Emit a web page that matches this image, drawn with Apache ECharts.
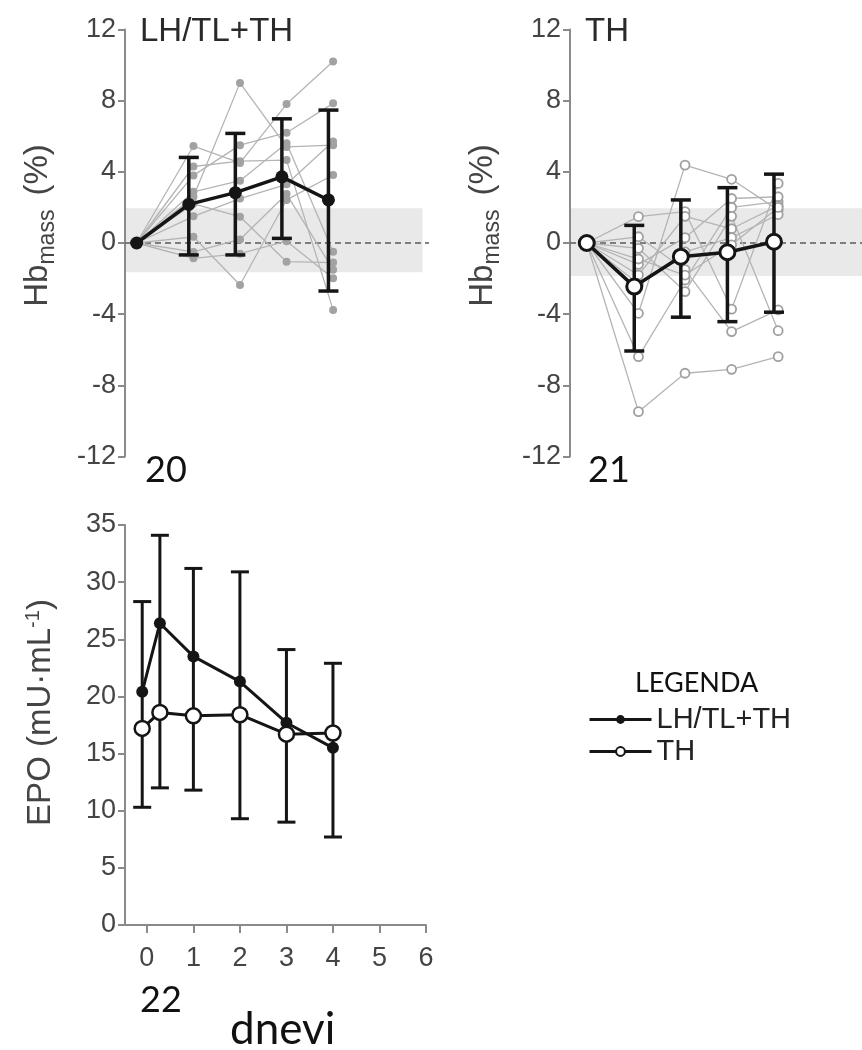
<!DOCTYPE html>
<html><head><meta charset="utf-8">
<script src="https://cdn.jsdelivr.net/npm/echarts@6/dist/echarts.min.js"></script>
<style>html,body{margin:0;padding:0;background:#fff}#c{width:862px;height:1050px}</style>
</head><body><div id="c"></div>
<script>
// ---------- DATA ----------
const hbTicks = [-12, -8, -4, 0, 4, 8, 12];
const epoTicks = [0, 5, 10, 15, 20, 25, 30, 35];
const dayTicks = [0, 1, 2, 3, 4, 5, 6];

// Panel 20: LH/TL+TH  (Hb mass, % change)
const leftMeanX = [-0.22, 0.9, 1.9, 2.9, 3.9];
const leftMean = [0, 2.17, 2.83, 3.72, 2.42];
const leftLow  = [null, -0.67, -0.67, 0.26, -2.70];
const leftHigh = [null, 4.81, 6.16, 6.98, 7.47];
const leftIndX = [-0.22, 1, 2, 3, 4];
const leftInd = [
  [0, 2.6, 9.0, 5.4, 5.5],
  [0, 5.45, 4.5, 7.81, 10.2],
  [0, 3.8, 5.5, 6.2, 7.85],
  [0, 4.3, 4.6, 4.66, -3.76],
  [0, 0.35, -2.36, 2.42, 3.82],
  [0, 2.88, 3.5, 5.6, -0.49],
  [0, 2.2, 1.48, -1.05, -1.1],
  [0, 1.5, 2.5, 3.3, 5.7],
  [0, -0.5, 0.2, 2.75, -1.5],
  [0, -0.86, -0.6, 0.1, -1.98]
];
const leftBand = [-1.65, 1.95];

// Panel 21: TH
const rightMeanX = [-0.11, 0.91, 1.91, 2.91, 3.91];
const rightMean = [0, -2.45, -0.77, -0.52, 0.07];
const rightLow  = [null, -6.07, -4.17, -4.42, -3.89];
const rightHigh = [null, 0.99, 2.42, 3.11, 3.87];
const rightIndX = [-0.11, 1, 2, 3, 4];
const rightInd = [
  [0, -9.48, -7.32, -7.1, -6.39],
  [0, -6.39, -2.08, 2.0, 2.32],
  [0, 1.48, 1.76, -3.72, 3.35],
  [0, -3.95, 4.38, 3.58, 1.85],
  [0, 0.35, -1.5, -4.98, -3.76],
  [0, -0.3, -2.73, 1.5, -4.93],
  [0, -1.2, 0.3, 2.5, 2.6],
  [0, -1.8, 1.5, 0.8, 2.1],
  [0, -2.3, -0.5, 0.3, 1.6],
  [0, -0.9, -1.8, -0.1, 2.0]
];
const rightBand = [-1.85, 1.95];

// Panel 22: EPO (mU·mL-1)
const epoX = [-0.1, 0.28, 1, 2, 3, 4];
const epoLH = [20.4, 26.4, 23.5, 21.3, 17.7, 15.5];
const epoTH = [17.2, 18.6, 18.3, 18.4, 16.7, 16.8];
const epoErrLow  = [10.3, 12.0, 11.8, 9.3, 9.0, 7.7];
const epoErrHigh = [28.3, 34.1, 31.2, 30.9, 24.1, 22.9];

// ---------- CHART ----------
const FONT = "'Liberation Sans', Arial, Helvetica, sans-serif";
const FONT2 = "Lato, 'Open Sans', sans-serif";
const LBL = '#444444';
const AX = '#8a8a8a';

function errRender(capHalf, lw) {
  return function (params, api) {
    const x = api.value(0), lo = api.value(1), hi = api.value(2);
    const a = api.coord([x, lo]), b = api.coord([x, hi]);
    const st = { stroke: '#151515', lineWidth: lw };
    return { type: 'group', children: [
      { type: 'line', shape: { x1: a[0], y1: a[1], x2: b[0], y2: b[1] }, style: st },
      { type: 'line', shape: { x1: a[0] - capHalf, y1: a[1], x2: a[0] + capHalf, y2: a[1] }, style: st },
      { type: 'line', shape: { x1: b[0] - capHalf, y1: b[1], x2: b[0] + capHalf, y2: b[1] }, style: st }
    ]};
  };
}
function bandRender(params, api) {
  const p0 = api.coord([api.value(0), api.value(3)]);
  const p1 = api.coord([api.value(2), api.value(1)]);
  return { type: 'rect', shape: { x: p0[0], y: p0[1], width: p1[0] - p0[0], height: p1[1] - p0[1] },
           style: { fill: '#e9e9e9' } };
}
function zeroRender(params, api) {
  const a = api.coord([api.value(0), 0]), b = api.coord([api.value(1), 0]);
  return { type: 'line', shape: { x1: a[0], y1: a[1], x2: b[0], y2: b[1] },
           style: { stroke: '#5a5a5a', lineWidth: 1.5, lineDash: [6, 4] } };
}
const pairs = (xs, ys) => xs.map((x, i) => [x, ys[i]]);
const errData = (xs, lo, hi) => xs.map((x, i) => [x, lo[i], hi[i]]).filter(d => d[1] !== null);

function hbYAxis(gi) {
  return {
    type: 'value', gridIndex: gi, min: -12, max: 12, interval: 4,
    axisLine: { show: true, onZero: false, lineStyle: { color: AX, width: 2 } },
    axisTick: { show: true, length: 7, lineStyle: { color: AX, width: 2 } },
    axisLabel: { fontSize: 27, fontFamily: FONT, color: LBL, margin: 9 },
    splitLine: { show: false },
    name: 'Hb{s|mass}{g| }(%)', nameLocation: 'middle', nameRotate: 90, nameGap: 66,
    nameTextStyle: { fontSize: 33, fontFamily: FONT, color: LBL, padding: [0, 0, 0, 35],
      rich: { s: { fontSize: 23, fontFamily: FONT, color: LBL, verticalAlign: 'bottom', padding: [20, 0, 0, 0] },
              g: { fontSize: 33, fontFamily: FONT, width: 14 } } }
  };
}

const series = [];
// ---- top-left
series.push({ type: 'custom', xAxisIndex: 0, yAxisIndex: 0, z: 0, silent: true,
  renderItem: bandRender, data: [[-0.47, leftBand[0], 5.92, leftBand[1]]] });
series.push({ type: 'custom', xAxisIndex: 0, yAxisIndex: 0, z: 1, silent: true,
  renderItem: zeroRender, data: [[-0.47, 6.06]] });
leftInd.forEach((row, i) => series.push({
  type: 'line', name: 'LH ind ' + i, xAxisIndex: 0, yAxisIndex: 0, z: 2, data: pairs(leftIndX, row),
  symbol: 'circle', symbolSize: 8, showSymbol: true,
  lineStyle: { color: '#b4b4b4', width: 1.3 }, itemStyle: { color: '#a2a2a2' }
}));
series.push({ type: 'custom', xAxisIndex: 0, yAxisIndex: 0, z: 3, renderItem: errRender(10, 3.5),
  data: errData(leftMeanX, leftLow, leftHigh) });
series.push({ type: 'line', name: 'LH/TL+TH Hb', xAxisIndex: 0, yAxisIndex: 0, z: 4,
  data: pairs(leftMeanX, leftMean), symbol: 'circle', symbolSize: 13,
  lineStyle: { color: '#151515', width: 3.5 }, itemStyle: { color: '#151515' } });

// ---- top-right
series.push({ type: 'custom', xAxisIndex: 1, yAxisIndex: 1, z: 0, silent: true,
  renderItem: bandRender, data: [[-0.47, rightBand[0], 5.8, rightBand[1]]] });
series.push({ type: 'custom', xAxisIndex: 1, yAxisIndex: 1, z: 1, silent: true,
  renderItem: zeroRender, data: [[-0.47, 5.8]] });
rightInd.forEach((row, i) => series.push({
  type: 'line', name: 'TH ind ' + i, xAxisIndex: 1, yAxisIndex: 1, z: 2, data: pairs(rightIndX, row),
  symbol: 'circle', symbolSize: 9, showSymbol: true,
  lineStyle: { color: '#b4b4b4', width: 1.3 },
  itemStyle: { color: '#ffffff', borderColor: '#a0a0a0', borderWidth: 1.8 }
}));
series.push({ type: 'custom', xAxisIndex: 1, yAxisIndex: 1, z: 3, renderItem: errRender(10, 3.5),
  data: errData(rightMeanX, rightLow, rightHigh) });
series.push({ type: 'line', name: 'TH Hb', xAxisIndex: 1, yAxisIndex: 1, z: 4,
  data: pairs(rightMeanX, rightMean), symbol: 'circle', symbolSize: 15,
  lineStyle: { color: '#151515', width: 3.5 },
  itemStyle: { color: '#ffffff', borderColor: '#151515', borderWidth: 3 } });

// ---- bottom
series.push({ type: 'custom', xAxisIndex: 2, yAxisIndex: 2, z: 3, renderItem: errRender(9, 3),
  data: errData(epoX, epoErrLow, epoErrHigh) });
series.push({ type: 'line', name: 'LH/TL+TH', xAxisIndex: 2, yAxisIndex: 2, z: 4,
  data: pairs(epoX, epoLH), symbol: 'circle', symbolSize: 12,
  lineStyle: { color: '#151515', width: 3 }, itemStyle: { color: '#151515' } });
series.push({ type: 'line', name: 'TH', xAxisIndex: 2, yAxisIndex: 2, z: 5,
  data: pairs(epoX, epoTH), symbol: 'circle', symbolSize: 15,
  lineStyle: { color: '#151515', width: 3 },
  itemStyle: { color: '#ffffff', borderColor: '#151515', borderWidth: 2.5 } });

const option = {
  animation: false,
  backgroundColor: '#ffffff',
  grid: [
    { left: 125, top: 29.5, width: 304, height: 427 },
    { left: 570, top: 29.5, width: 292, height: 427 },
    { left: 125, top: 525, width: 301, height: 400 }
  ],
  xAxis: [
    { type: 'value', gridIndex: 0, min: -0.47, max: 6.06, show: false },
    { type: 'value', gridIndex: 1, min: -0.47, max: 5.8, show: false },
    { type: 'value', gridIndex: 2, min: -0.47, max: 6,
      axisLine: { show: true, onZero: false, lineStyle: { color: AX, width: 2 } },
      axisTick: { show: true, length: 8, customValues: dayTicks, lineStyle: { color: AX, width: 2 } },
      axisLabel: { fontSize: 27, fontFamily: FONT, color: LBL, margin: 20, customValues: dayTicks },
      splitLine: { show: false } }
  ],
  yAxis: [
    hbYAxis(0), hbYAxis(1),
    { type: 'value', gridIndex: 2, min: 0, max: 35, interval: 5,
      axisLine: { show: true, onZero: false, lineStyle: { color: AX, width: 2 } },
      axisTick: { show: true, length: 7, lineStyle: { color: AX, width: 2 } },
      axisLabel: { fontSize: 27, fontFamily: FONT, color: LBL, margin: 9 },
      splitLine: { show: false },
      name: 'EPO (mU·mL{p|-1})', nameLocation: 'middle', nameRotate: 90, nameGap: 66,
      nameTextStyle: { fontSize: 33, fontFamily: FONT, color: LBL, padding: [0, 0, 0, 25],
        rich: { p: { fontSize: 20, fontFamily: FONT, color: LBL, verticalAlign: 'top', padding: [0, 0, 16, 0] } } } }
  ],
  legend: {
    data: ['LH/TL+TH', 'TH'], orient: 'vertical', left: 583, top: 700,
    itemWidth: 62, itemHeight: 11, itemGap: 3,
    lineStyle: { width: 3, color: '#151515' },
    textStyle: { fontSize: 29, fontFamily: FONT, color: '#222' }
  },
  graphic: [
    { type: 'text', x: 140, y: 32, style: { text: 'LH/TL+TH', fontSize: 33, fontFamily: FONT, fill: '#2a2a2a', verticalAlign: 'middle' } },
    { type: 'text', x: 585, y: 32, style: { text: 'TH', fontSize: 33, fontFamily: FONT, fill: '#2a2a2a', verticalAlign: 'middle' } },
    { type: 'text', x: 145, y: 470, style: { text: '20', fontSize: 36, fontFamily: FONT2, fill: '#111', verticalAlign: 'middle' } },
    { type: 'text', x: 588, y: 470, style: { text: '21', fontSize: 36, fontFamily: FONT2, fill: '#111', verticalAlign: 'middle' } },
    { type: 'text', x: 140, y: 1000, style: { text: '22', fontSize: 36, fontFamily: FONT2, fill: '#111', verticalAlign: 'middle' } },
    { type: 'text', x: 230, y: 1030, style: { text: 'dnevi', fontSize: 44, fontFamily: FONT2, fill: '#111', verticalAlign: 'middle' } },
    { type: 'text', x: 635, y: 683, style: { text: 'LEGENDA', fontSize: 27, fontFamily: FONT2, fill: '#111', verticalAlign: 'middle' } }
  ],
  series: series
};
echarts.init(document.getElementById('c'), null, { renderer: 'canvas' }).setOption(option);
</script></body></html>
